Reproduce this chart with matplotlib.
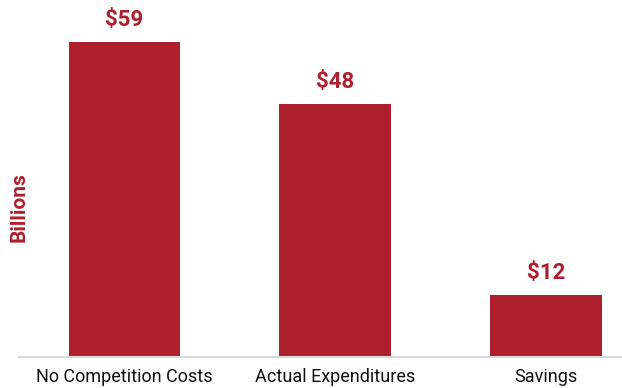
import matplotlib
matplotlib.use("Agg")
import matplotlib.pyplot as plt

categories = ["No Competition Costs", "Actual Expenditures", "Savings"]
values = [59.4, 47.7, 11.7]

fam = ["Roboto", "DejaVu Sans"]
red = "#AE1F2D"
fig = plt.figure(figsize=(6.22, 3.88), dpi=100)
ax = fig.add_axes([19/622, 31/388, 1 - 19/622, 1 - 31/388])
x = list(range(len(categories)))
bars = ax.bar(x, values, width=0.53, color=red)
ax.set_xlim(-0.5, 2.36)
ax.set_ylim(0, 67.4)
for b, v in zip(bars, values):
    ax.annotate(f"${round(v)}", (b.get_x() + b.get_width()/2, v), xytext=(0, 8),
                textcoords="offset points", ha="center", va="bottom",
                fontsize=16, fontweight="bold", color=red, family=fam)
ax.set_xticks(x)
ax.set_xticklabels(categories, fontsize=13, family=fam, color="#111111")
ax.tick_params(axis="x", length=0, pad=8)
ax.set_yticks([])
for s in ["top", "right", "left"]:
    ax.spines[s].set_visible(False)
ax.spines["bottom"].set_color("#d9d9d9")
ax.spines["bottom"].set_linewidth(1.5)
fig.text(19/622, 1 - 207/388, "Billions", rotation=90, ha="center", va="center",
         fontsize=15, fontweight="bold", color=red, family=fam)
fig.savefig("out.png", dpi=100)
